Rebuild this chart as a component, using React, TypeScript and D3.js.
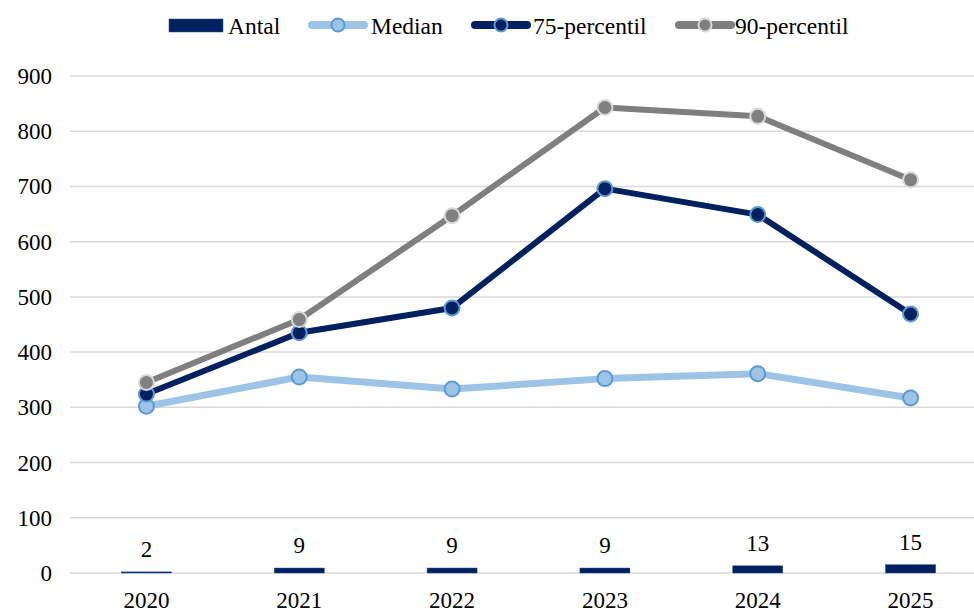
import React from "react";
import * as d3 from "d3";

const years = ["2020", "2021", "2022", "2023", "2024", "2025"];
const antal = [2, 9, 9, 9, 13, 15];
const median = [302, 355, 333, 352, 361, 317];
const p75 = [324, 435, 480, 696, 649, 469];
const p90 = [345, 459, 647, 843, 827, 712];
const yTicks = [0, 100, 200, 300, 400, 500, 600, 700, 800, 900];

const W = 974;
const H = 612;
const FONT = "Liberation Serif, Times New Roman, DejaVu Serif, serif";
const ts: React.CSSProperties = { fontFamily: FONT };

export default function App() {
  const x = d3.scaleBand<string>().domain(years).range([70, 987]);
  const y = d3.scaleLinear().domain([0, 900]).range([573, 76]);
  const cx = (d: string) => (x(d) as number) + x.bandwidth() / 2;
  const line = d3
    .line<number>()
    .x((_, i) => cx(years[i]))
    .y((v) => y(v));

  const series = [
    { name: "Median", data: median, stroke: "#9dc3e6", width: 7, fill: "#9dc3e6", mstroke: "#5b9bd5" },
    { name: "75-percentil", data: p75, stroke: "#002060", width: 6, fill: "#002060", mstroke: "#5b9bd5" },
    { name: "90-percentil", data: p90, stroke: "#7f7f7f", width: 6, fill: "#808080", mstroke: "#d9d9d9" },
  ];
  const barW = 50;

  const legendItems = [
    { kind: "bar", name: "Antal", x: 169, tx: 228 },
    { kind: "line", name: "Median", x: 308, tx: 371, s: series[0] },
    { kind: "line", name: "75-percentil", x: 471, tx: 533, s: series[1] },
    { kind: "line", name: "90-percentil", x: 675, tx: 735, s: series[2] },
  ];

  return (
    <svg width={W} height={H} style={{ position: "absolute", left: 0, top: 0, background: "#fff", fontFamily: FONT }}>
      {yTicks.map((t) => (
        <g key={t}>
          <line x1={70} x2={974} y1={y(t)} y2={y(t)} stroke="#d9d9d9" strokeWidth={1.5} />
          <text x={52} y={y(t)} dy="0.35em" textAnchor="end" fontSize={23} fill="#000" style={ts}>
            {t}
          </text>
        </g>
      ))}
      {years.map((yr) => (
        <text key={yr} x={cx(yr)} y={608} textAnchor="middle" fontSize={23} fill="#000" style={ts}>
          {yr}
        </text>
      ))}
      {years.map((yr, i) => (
        <g key={yr}>
          <rect x={cx(yr) - barW / 2} y={y(antal[i])} width={barW} height={y(0) - y(antal[i])} fill="#002060" stroke="#1f4e99" strokeWidth={0.5} />
          <text x={cx(yr)} y={y(antal[i]) - 15} textAnchor="middle" fontSize={23} fill="#000" style={ts}>
            {antal[i]}
          </text>
        </g>
      ))}
      {series.map((s) => (
        <path key={s.name} d={line(s.data) as string} fill="none" stroke={s.stroke} strokeWidth={s.width} strokeLinejoin="round" />
      ))}
      {series.map((s) => (
        <g key={s.name + "m"}>
          {s.data.map((v, i) => (
            <circle key={i} cx={cx(years[i])} cy={y(v)} r={7.5} fill={s.fill} stroke={s.mstroke} strokeWidth={2} />
          ))}
        </g>
      ))}
      {legendItems.map((it) =>
        it.kind === "bar" ? (
          <g key={it.name}>
            <rect x={it.x} y={19} width={54} height={13} fill="#002060" stroke="#1f4e99" strokeWidth={0.5} />
            <text x={it.tx} y={25.5} dy="0.35em" fontSize={23.5} fill="#000" style={ts}>
              {it.name}
            </text>
          </g>
        ) : (
          <g key={it.name}>
            <line x1={it.x + 4} x2={it.x + 56} y1={25} y2={25} stroke={it.s!.stroke} strokeWidth={8} strokeLinecap="round" />
            <circle cx={it.x + 30} cy={25} r={6.5} fill={it.s!.fill} stroke={it.s!.mstroke} strokeWidth={2} />
            <text x={it.tx} y={25.5} dy="0.35em" fontSize={23.5} fill="#000" style={ts}>
              {it.name}
            </text>
          </g>
        )
      )}
    </svg>
  );
}
